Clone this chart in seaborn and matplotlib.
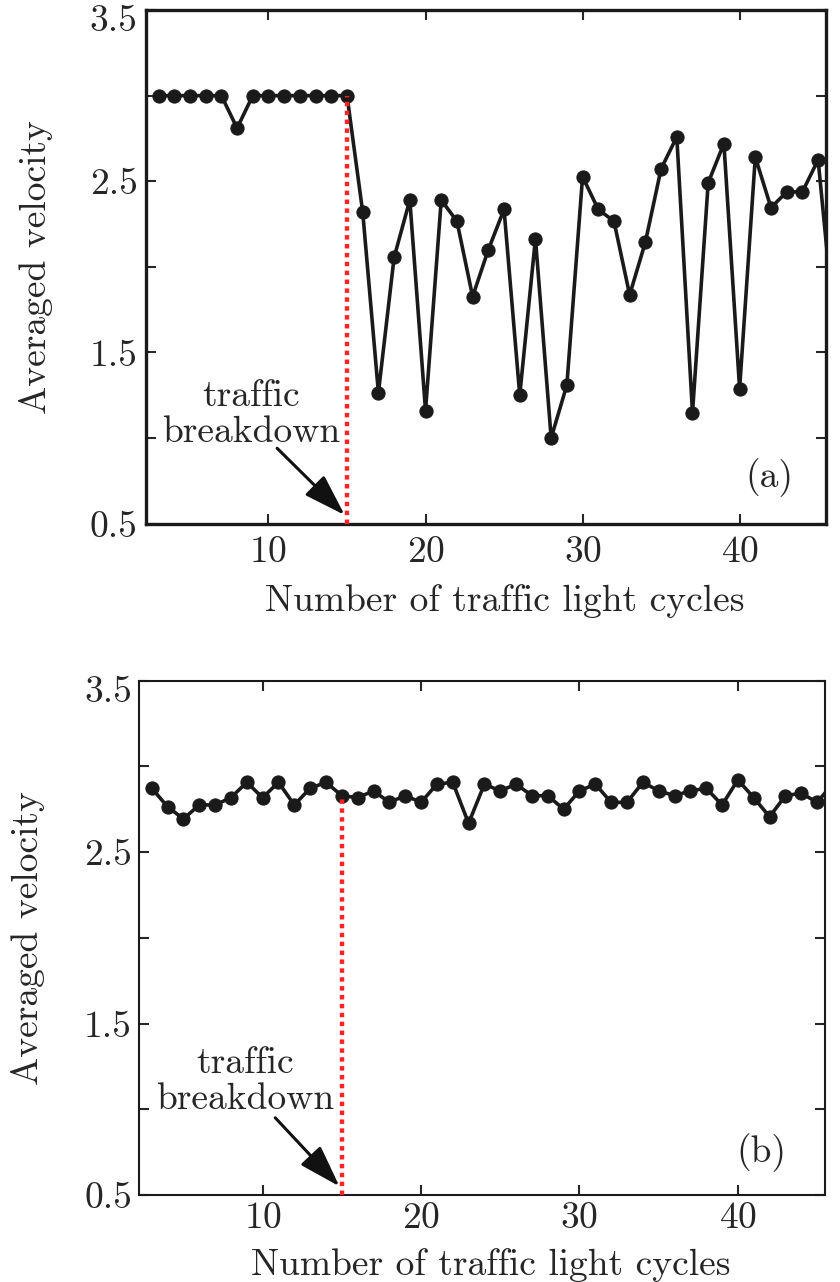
import numpy as np
import pandas as pd
import matplotlib
matplotlib.use("Agg")
import matplotlib.pyplot as plt
import matplotlib.transforms as mtransforms
import seaborn as sns

# cycle numbers (last one sits just outside the axis, clipped)
cycles = list(range(3, 47))

# panel (a): averaged velocity with traffic breakdown
vel_a = [3.0, 3.0, 3.0, 3.0, 3.0, 2.81, 3.0, 3.0, 3.0, 3.0, 3.0, 3.0, 3.0,
         2.32, 1.265, 2.055, 2.39, 1.16, 2.39, 2.266, 1.826, 2.10, 2.335,
         1.25, 2.165, 1.0, 1.309, 2.526, 2.335, 2.266, 1.836, 2.144, 2.572,
         2.759, 1.147, 2.491, 2.72, 1.288, 2.641, 2.345, 2.438, 2.438, 2.625,
         1.68]

# panel (b): averaged velocity, no breakdown
vel_b = [2.872, 2.765, 2.693, 2.775, 2.775, 2.817, 2.907, 2.817, 2.907,
         2.775, 2.872, 2.907, 2.829, 2.817, 2.857, 2.79, 2.829, 2.79, 2.896,
         2.907, 2.668, 2.896, 2.857, 2.896, 2.829, 2.829, 2.75, 2.857, 2.896,
         2.79, 2.79, 2.907, 2.857, 2.829, 2.857, 2.872, 2.775, 2.921, 2.817,
         2.706, 2.829, 2.843, 2.79, 2.9]

breakdown_cycle = 15
y_ticks = [0.5, 1.0, 1.5, 2.0, 2.5, 3.0, 3.5]
y_ticklabels = ["0.5", "", "1.5", "", "2.5", "", "3.5"]
x_ticks = [10, 20, 30, 40]

sns.set_style("ticks")
plt.rcParams["font.family"] = ["cmr10", "DejaVu Serif"]
plt.rcParams["mathtext.fontset"] = "cm"
plt.rcParams["axes.unicode_minus"] = False
plt.rcParams["axes.formatter.use_mathtext"] = True

FS = 27

fig = plt.figure(figsize=(8.4, 12.82), dpi=100)
ax_a = fig.add_axes([0.1738, 0.5916, 0.8095, 0.4006])
ax_b = fig.add_axes([0.1655, 0.0679, 0.8167, 0.4012])

panels = [
    # ax, data, tag, tag pos, text pos, arrow tail, spine width,
    # ytick pad, xtick pad, xlabel coords, ylabel x
    (ax_a, vel_a, "(a)", (41.9, 0.77), (8.9, 1.14), (10.55, 0.94), 2.4,
     6, 9, (0.528, -0.118), -0.137),
    (ax_b, vel_b, "(b)", (41.5, 0.75), (8.9, 1.16), (10.8, 0.95), 1.5,
     5, 5, (0.512, -0.103), -0.137),
]

for (ax, vel, tag, tag_xy, text_xy, tail_xy, spine_w,
     ypad, xpad, xlab_xy, ylab_x) in panels:
    df = pd.DataFrame({"cycle": cycles, "velocity": vel})
    sns.lineplot(data=df, x="cycle", y="velocity", ax=ax, color="#1a1a1a",
                 linewidth=2.6, marker="o", markersize=9.5,
                 markeredgecolor="#1a1a1a", markerfacecolor="#1a1a1a")

    # red dotted line at the breakdown cycle
    v15 = vel[cycles.index(breakdown_cycle)]
    ax.plot([breakdown_cycle, breakdown_cycle], [0.5, v15], color="#ff2424",
            linestyle=(0, (1, 1)), linewidth=3.2, zorder=3)

    # arrow pointing at the breakdown
    ax.annotate("", xy=(14.85, 0.55), xytext=tail_xy, textcoords="data",
                arrowprops=dict(arrowstyle="-|>,head_length=1.3,head_width=0.42",
                                mutation_scale=20, color="#111111", lw=2.2,
                                shrinkA=0, shrinkB=0))
    ax.text(text_xy[0], text_xy[1], "traffic\nbreakdown", fontsize=FS,
            ha="center", va="center", linespacing=1.1)
    ax.text(tag_xy[0], tag_xy[1], tag, fontsize=FS, ha="center", va="center")

    ax.set_xlim(2.2, 45.5)
    ax.set_ylim(0.5, 3.5)
    ax.set_xticks(x_ticks)
    ax.set_yticks(y_ticks)
    ax.set_yticklabels(y_ticklabels)
    ax.tick_params(direction="in", length=7, width=1.5, top=True, right=True,
                   labelsize=FS)
    ax.tick_params(axis="y", pad=ypad)
    ax.tick_params(axis="x", pad=xpad)
    for s in ax.spines.values():
        s.set_visible(True)
        s.set_linewidth(spine_w)
        s.set_color("#1a1a1a")

    # top label sits a little below its tick, as in the original export
    top_lab = ax.get_yticklabels()[-1]
    top_lab.set_transform(top_lab.get_transform() +
                          mtransforms.ScaledTranslation(0, -0.08, fig.dpi_scale_trans))

    ax.set_xlabel("Number of traffic light cycles", fontsize=FS)
    ax.set_ylabel("Averaged velocity", fontsize=FS)
    ax.xaxis.set_label_coords(*xlab_xy)
    ax.yaxis.set_label_coords(ylab_x, 0.5)

fig.savefig("out.png", dpi=100, facecolor="white")
